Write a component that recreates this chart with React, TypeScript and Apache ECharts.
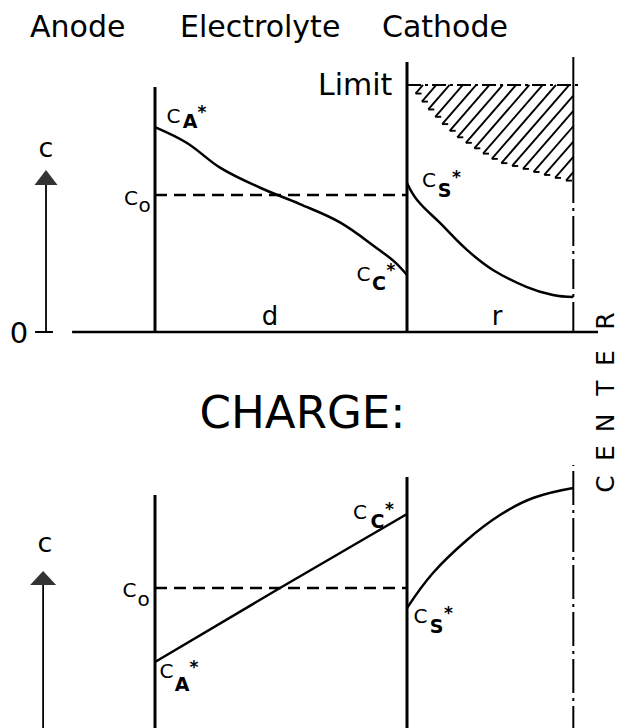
import React, { useEffect, useRef } from 'react';
import * as echarts from 'echarts';

const FONT = '"DejaVu Sans", "Liberation Sans", sans-serif';

// Horizontal positions: anode surface = 0, electrolyte|cathode interface = 100 (d), particle centre = 166 (d + r)
const boundaryX = [0, 100, 166];
// Concentrations in units of c0
const c0 = 1;

// ---- upper panel (discharge) ----
const dischargeElectrolyteX = [0, 12.7, 25.8, 41.7, 57.5, 73.4, 89.3, 95.2, 100];
const dischargeElectrolyteC = [1.496, 1.38, 1.2, 1.053, 0.934, 0.8, 0.595, 0.51, 0.416];
const dischargeCathodeX = [100, 104, 113.1, 123.8, 134.1, 147.6, 157.9, 166];
const dischargeCathodeC = [1.088, 0.964, 0.796, 0.599, 0.453, 0.328, 0.27, 0.255];
const limitC = 1.803;
const hatchEdgeX = [100, 101.2, 103.2, 107.9, 114.3, 119.8, 127.8, 135.7, 144.8, 151.6, 161.9, 166];
const hatchEdgeC = [1.803, 1.788, 1.745, 1.635, 1.511, 1.423, 1.328, 1.241, 1.197, 1.161, 1.109, 1.095];
const dischargeLineTops = [1.788, 1.971, 2.007];

// ---- lower panel (charge) ----
const chargeElectrolyteX = [0, 49.6, 100];
const chargeElectrolyteC = [0.513, 1.0, 1.487];
const chargeCathodeX = [100, 110.3, 123.8, 136.9, 150, 166];
const chargeCathodeC = [0.868, 1.099, 1.316, 1.48, 1.592, 1.658];
const chargeLineTops = [1.612, 1.73, 1.809];

// axis furniture (data units)
const baselineX = [-32.9, 175.8];
const zeroTickX = [-47.6, -40.5];
const arrowX = [-43.25, -44.4];
const arrowBase = [1.073, 1.02];
const arrowTip = [1.182, 1.112];

const zip = (xs: number[], ys: number[]) => xs.map((x, i) => [x, ys[i]]);

const line = (data: number[][], g: number, width: number, type: any = 'solid', smooth: any = false) => ({
  type: 'line',
  xAxisIndex: g,
  yAxisIndex: g,
  data,
  symbol: 'none',
  showSymbol: false,
  silent: true,
  clip: false,
  smooth,
  lineStyle: { color: '#000', width, type, cap: 'butt' },
  z: 3,
});

const txt = (text: string, x: number, y: number, fs: number, opt: any = {}) => ({
  type: 'text',
  x,
  y,
  rotation: opt.rotation || 0,
  silent: true,
  z: 10,
  style: {
    text,
    fill: '#000',
    fontSize: fs,
    fontFamily: FONT,
    fontWeight: opt.weight || 'normal',
    lineHeight: opt.lh,
    align: opt.align || 'center',
    textAlign: opt.align || 'center',
    verticalAlign: 'middle',
    textVerticalAlign: 'middle',
  },
});

// "C" with a subscript letter and a star superscript
const cStarLabel = (sub: string, c: number[], s: number[]) => [
  txt('C', c[0], c[1], 20, { lh: 15 }),
  txt(sub, s[0], s[1], 19, { weight: 'bold', lh: 14 }),
  txt('*', s[0] + 12, c[1] - 3.3, 17, { weight: 'bold', lh: 8 }),
];
const cZeroLabel = (c: number[], s: number[]) => [
  txt('C', c[0], c[1], 20, { lh: 15 }),
  txt('o', s[0], s[1], 20, { lh: 11 }),
];

const centerLetters = ['C', 'E', 'N', 'T', 'E', 'R'];
const centerLetterY = [484, 453, 423, 388, 358, 321];

function buildOption() {
  const hatch = {
    type: 'custom',
    xAxisIndex: 0,
    yAxisIndex: 0,
    clip: false,
    silent: true,
    z: 2,
    data: [[boundaryX[1], limitC]],
    renderItem: (params: any, api: any) => {
      const edge = hatchEdgeX.map((x, i) => api.coord([x, hatchEdgeC[i]]));
      const topY = api.coord([boundaryX[1], limitC])[1];
      const leftX = api.coord([boundaryX[1], 0])[0];
      const rightX = api.coord([boundaryX[2], 0])[0];
      const k = 1.15;
      const step = 13.3;
      const lastY = edge[edge.length - 1][1];
      const children: any[] = [];
      const st = { stroke: '#000', lineWidth: 1.9 };
      for (let x0 = leftX + 16; x0 < rightX + 300; x0 += step) {
        let xu: number;
        let yu: number;
        if (x0 <= rightX) {
          xu = x0;
          yu = topY;
        } else {
          xu = rightX;
          yu = topY + k * (x0 - rightX);
          if (yu >= lastY - 1) break;
        }
        const g = (i: number) => topY + k * (x0 - edge[i][0]) - edge[i][1];
        let xl: number | null = null;
        let yl = 0;
        for (let i = 0; i < edge.length - 1; i++) {
          const g1 = g(i);
          const g2 = g(i + 1);
          if (g1 >= 0 && g2 <= 0 && g1 !== g2) {
            const t = g1 / (g1 - g2);
            xl = edge[i][0] + t * (edge[i + 1][0] - edge[i][0]);
            yl = edge[i][1] + t * (edge[i + 1][1] - edge[i][1]);
            break;
          }
        }
        if (xl === null) continue;
        children.push({ type: 'line', shape: { x1: xl, y1: yl, x2: xu, y2: yu }, style: st });
        children.push({ type: 'line', shape: { x1: xl, y1: yl, x2: Math.min(xl + 6, rightX), y2: yl }, style: st });
      }
      return { type: 'group', children };
    },
  };

  const series: any[] = [
    // upper panel
    line([[boundaryX[0], 0], [boundaryX[0], dischargeLineTops[0]]], 0, 3),
    line([[boundaryX[1], 0], [boundaryX[1], dischargeLineTops[1]]], 0, 3),
    line([[boundaryX[2], hatchEdgeC[hatchEdgeC.length - 1]], [boundaryX[2], dischargeLineTops[2]]], 0, 2),
    line([[boundaryX[2], 0], [boundaryX[2], hatchEdgeC[hatchEdgeC.length - 1]]], 0, 2, [30, 5, 3, 5]),
    line([[baselineX[0], 0], [baselineX[1], 0]], 0, 2.5),
    line([[zeroTickX[0], 0], [zeroTickX[1], 0]], 0, 2),
    line([[arrowX[0], 0], [arrowX[0], arrowBase[0]]], 0, 1.8),
    line([[boundaryX[0], c0], [boundaryX[1], c0]], 0, 2.5, [12, 7]),
    line([[boundaryX[1], limitC], [168, limitC]], 0, 2, [14, 4, 3, 4]),
    line(zip(dischargeElectrolyteX, dischargeElectrolyteC), 0, 2.5, 'solid', 0.35),
    line(zip(dischargeCathodeX, dischargeCathodeC), 0, 2.5, 'solid', 0.4),
    {
      type: 'scatter', xAxisIndex: 0, yAxisIndex: 0, silent: true,
      data: [[arrowX[0], (arrowBase[0] + arrowTip[0]) / 2]],
      symbol: 'triangle', symbolSize: [23, 15], itemStyle: { color: '#000' }, z: 4,
    },
    hatch,
    // lower panel
    line([[boundaryX[0], 0], [boundaryX[0], chargeLineTops[0]]], 1, 3),
    line([[boundaryX[1], 0], [boundaryX[1], chargeLineTops[1]]], 1, 3),
    line([[boundaryX[2], 0], [boundaryX[2], chargeLineTops[2]]], 1, 2, [34, 5, 3, 5]),
    line([[arrowX[1], 0], [arrowX[1], arrowBase[1]]], 1, 1.8),
    line([[boundaryX[0], c0], [boundaryX[1], c0]], 1, 2.5, [12, 7]),
    line(zip(chargeElectrolyteX, chargeElectrolyteC), 1, 2.5),
    line(zip(chargeCathodeX, chargeCathodeC), 1, 2.5, 'solid', 0.4),
    {
      type: 'scatter', xAxisIndex: 1, yAxisIndex: 1, silent: true,
      data: [[arrowX[1], (arrowBase[1] + arrowTip[1]) / 2]],
      symbol: 'triangle', symbolSize: [26, 14], itemStyle: { color: '#000' }, z: 4,
    },
  ];

  const texts: any[] = [
    txt('Anode', 30, 26.6, 30, { align: 'left' }),
    txt('Electrolyte', 180, 26.6, 30, { align: 'left' }),
    txt('Cathode', 382, 26.6, 30, { align: 'left' }),
    txt('Limit', 318, 84.6, 30, { align: 'left' }),
    txt('CHARGE:', 302.5, 412.4, 45),
    txt('d', 270, 316, 26),
    txt('r', 497, 316, 26),
    txt('0', 19, 333, 29),
    txt('c', 46, 147.7, 27),
    txt('c', 45, 542.7, 27),
    ...cStarLabel('A', [173.5, 115.5], [190, 120.5]),
    ...cStarLabel('S', [429, 180], [444.5, 190]),
    ...cStarLabel('C', [363.5, 273.5], [379, 282.5]),
    ...cZeroLabel([131, 197.5], [144.5, 205]),
    ...cZeroLabel([129.5, 589.5], [143.5, 599]),
    ...cStarLabel('A', [166.5, 670.5], [182, 683.5]),
    ...cStarLabel('C', [360, 512], [377.5, 520.5]),
    ...cStarLabel('S', [420.5, 616], [436.5, 626]),
    ...centerLetters.map((l, i) => txt(l, 605, centerLetterY[i], 25, { rotation: Math.PI / 2, lh: 20 })),
  ];

  return {
    animation: false,
    backgroundColor: '#ffffff',
    textStyle: { fontFamily: FONT },
    grid: [
      { left: 29, width: 579.6, top: 44.3, height: 287.7, containLabel: false, outerBoundsMode: 'none' },
      { left: 29, width: 579.6, top: 436, height: 304, containLabel: false, outerBoundsMode: 'none' },
    ],
    xAxis: [
      { gridIndex: 0, type: 'value', min: -50, max: 180, show: false },
      { gridIndex: 1, type: 'value', min: -50, max: 180, show: false },
    ],
    yAxis: [
      { gridIndex: 0, type: 'value', min: 0, max: 2.1, show: false },
      { gridIndex: 1, type: 'value', min: 0, max: 2, show: false },
    ],
    series,
    graphic: { elements: texts },
  };
}

export default function App() {
  const ref = useRef<HTMLDivElement>(null);
  useEffect(() => {
    if (!ref.current) return;
    const chart = echarts.init(ref.current, undefined, { renderer: 'svg' });
    chart.setOption(buildOption() as any);
    return () => chart.dispose();
  }, []);
  return (
    <div
      ref={ref}
      style={{ position: 'absolute', left: 0, top: 0, width: 618, height: 728, background: '#fff' }}
    />
  );
}
